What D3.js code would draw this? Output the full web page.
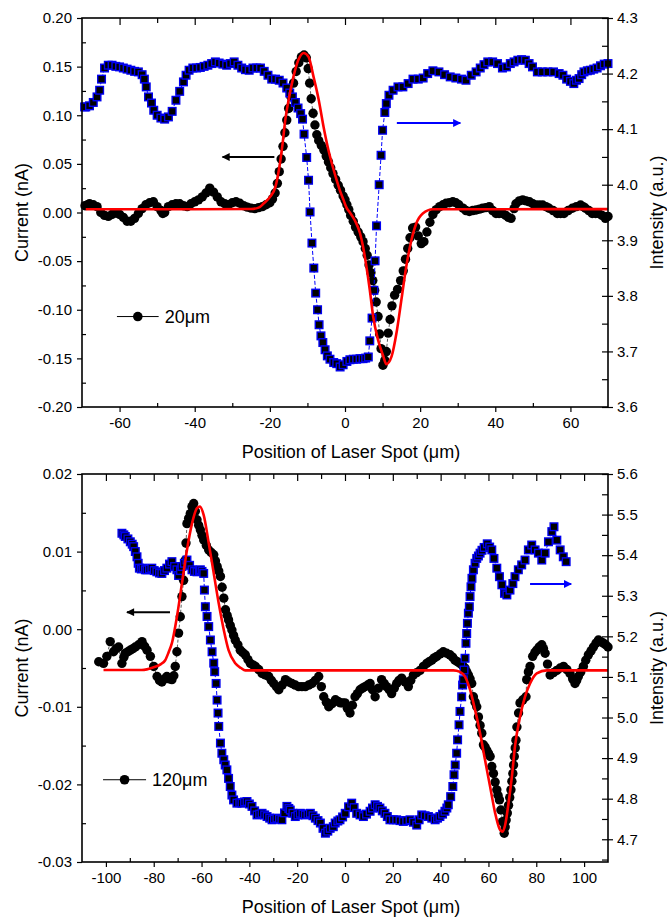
<!DOCTYPE html>
<html>
<head>
<meta charset="utf-8">
<script src="https://cdn.jsdelivr.net/npm/d3@7"></script>
<style>
  body { margin: 0; background: #fff; }
  svg text { font-family: "Liberation Sans", Arial, Helvetica, sans-serif; fill: #000; }
</style>
</head>
<body>
<div id="chart"></div>
<script>
// Photocurrent / reflected intensity line scans, two spot sizes

// ---- top panel (20um) : [position um, value]
const topCurrent = [[-69.2,0.007],[-68.5,0.008],[-68,0.009],[-67,0.008],[-66,0.006],[-65,0.0],[-64,-0.003],[-63,-0.004],[-62,-0.002],[-61,-0.0005],[-60,-0.002],[-59,-0.005],[-58,-0.009],[-57,-0.009],[-56,-0.006],[-55,-0.001],[-54,0.004],[-53,0.008],[-52,0.01],[-51,0.011],[-50,0.006],[-49,0.002],[-48.5,-0.001],[-48,0.0],[-47,0.006],[-46,0.008],[-45,0.009],[-44,0.009],[-43,0.007],[-42,0.006],[-41,0.009],[-40,0.011],[-39,0.013],[-38,0.016],[-37,0.02],[-36,0.025],[-35,0.021],[-34,0.016],[-33,0.011],[-32,0.009],[-31,0.008],[-30,0.01],[-29,0.011],[-28,0.0095],[-27,0.007],[-26,0.0055],[-25,0.0045],[-24,0.004],[-23,0.005],[-22,0.006],[-21,0.008],[-20,0.01],[-19.3,0.014],[-18.6,0.02],[-18,0.03],[-17.5,0.042],[-17,0.055],[-16.5,0.068],[-16,0.082],[-15.5,0.095],[-15,0.107],[-14.4,0.119],[-13.7,0.133],[-13,0.145],[-12.3,0.154],[-11.6,0.16],[-10.9,0.162],[-10.3,0.159],[-9.8,0.148],[-9.4,0.133],[-9,0.117],[-8.5,0.102],[-8,0.09],[-7.5,0.08],[-7,0.074],[-6.3,0.069],[-5.6,0.064],[-5,0.058],[-4.4,0.052],[-3.8,0.046],[-3.2,0.04],[-2.5,0.034],[-1.8,0.028],[-1.2,0.023],[-0.5,0.017],[0,0.013],[0.5,0.008],[1,0.003],[1.5,-0.003],[2.2,-0.009],[2.8,-0.015],[3.5,-0.02],[4.2,-0.025],[4.8,-0.03],[5.4,-0.037],[5.9,-0.044],[6.4,-0.054],[6.9,-0.062],[7.4,-0.07],[7.9,-0.08],[8.3,-0.092],[8.8,-0.107],[9.2,-0.125],[9.6,-0.14],[10.1,-0.157],[10.6,-0.152],[11.0,-0.143],[11.5,-0.124],[12.0,-0.11],[12.5,-0.096],[13.2,-0.085],[14,-0.079],[14.8,-0.07],[15.5,-0.06],[16.1,-0.048],[16.7,-0.037],[17.3,-0.026],[18,-0.016],[18.8,-0.015],[19.5,-0.024],[20.3,-0.032],[21,-0.03],[21.8,-0.02],[22.6,-0.01],[23.4,-0.002],[24.3,0.003],[25.2,0.006],[26.1,0.008],[26.9,0.0095],[27.8,0.01],[28.7,0.011],[29.5,0.01],[30.3,0.008],[31.4,0.0045],[32.2,0.002],[33.1,0.001],[34,0.002],[34.9,0.0026],[35.8,0.0035],[36.6,0.0044],[37.5,0.005],[38.4,0.006],[39.3,0.002],[40.2,-0.001],[41,-0.001],[41.9,-0.001],[42.8,-0.003],[43.5,-0.005],[44.2,-0.006],[45,0.004],[45.5,0.009],[46.4,0.012],[47.3,0.013],[48.2,0.012],[49.1,0.011],[50,0.009],[50.8,0.0077],[51.7,0.0077],[52.6,0.0077],[53.5,0.006],[54.3,0.0044],[55.4,0.002],[56.5,-0.001],[57.4,-0.001],[58.3,-0.001],[59.4,0.002],[60.5,0.0044],[61.6,0.006],[62.7,0.0077],[63.4,0.006],[64,0.0044],[64.9,0.002],[65.8,-0.001],[66.7,-0.001],[67.5,-0.001],[68.4,-0.003],[69.3,-0.006],[70,-0.004]];

const topIntensity = [[-69.3,4.14],[-69,4.14],[-68,4.142],[-67,4.148],[-66,4.158],[-65.3,4.17],[-64.8,4.19],[-64,4.21],[-63,4.215],[-62,4.215],[-61,4.213],[-60,4.212],[-59,4.21],[-58,4.208],[-57,4.206],[-56,4.204],[-55,4.203],[-54,4.198],[-53.4,4.19],[-52.9,4.176],[-52.3,4.158],[-51.5,4.147],[-50.9,4.134],[-50,4.125],[-49,4.12],[-48,4.118],[-47,4.122],[-46,4.132],[-45,4.152],[-44,4.168],[-43,4.185],[-42.3,4.197],[-41.5,4.206],[-40.5,4.21],[-39.5,4.21],[-38.5,4.211],[-37.5,4.213],[-36.5,4.215],[-35.5,4.218],[-34.5,4.221],[-33.5,4.219],[-32.5,4.217],[-31.5,4.215],[-30.5,4.218],[-29.5,4.221],[-28.5,4.215],[-27.5,4.21],[-26.5,4.207],[-25.5,4.206],[-24.5,4.21],[-23.5,4.21],[-22.5,4.21],[-21.5,4.204],[-20.5,4.197],[-19.5,4.19],[-18.5,4.19],[-17.5,4.188],[-16.5,4.183],[-15.5,4.174],[-14.7,4.165],[-14,4.158],[-13.2,4.148],[-12.5,4.138],[-11.8,4.128],[-11.3,4.118],[-10.9,4.091],[-10.2,4.049],[-9.7,4.008],[-9.3,3.951],[-8.8,3.895],[-8.3,3.85],[-7.8,3.805],[-7.3,3.775],[-6.9,3.748],[-6.4,3.728],[-5.9,3.716],[-5.3,3.703],[-4.7,3.692],[-4,3.686],[-3,3.68],[-2.2,3.678],[-1.3,3.672],[-0.5,3.676],[0.5,3.682],[1.3,3.685],[2.2,3.686],[3.1,3.686],[4,3.687],[4.8,3.687],[5.5,3.688],[6.2,3.69],[6.6,3.719],[7.2,3.76],[7.7,3.81],[8,3.863],[8.4,3.926],[9.1,4.0],[9.6,4.053],[10,4.098],[10.6,4.13],[11,4.146],[11.7,4.161],[12.8,4.17],[14.1,4.176],[15.4,4.176],[16.8,4.182],[18.1,4.19],[19.5,4.19],[20.8,4.192],[22,4.2],[23.4,4.205],[25,4.203],[26.5,4.198],[28,4.194],[29.5,4.192],[31,4.19],[32.2,4.188],[33.6,4.197],[34.9,4.203],[36,4.21],[37,4.216],[38,4.221],[39.3,4.221],[40.6,4.218],[41.9,4.21],[43,4.212],[44,4.218],[45,4.221],[46,4.224],[47,4.225],[48,4.224],[49,4.218],[49.9,4.212],[51.2,4.203],[52.5,4.203],[54,4.203],[55.5,4.203],[57,4.2],[58,4.197],[59,4.19],[60,4.186],[60.9,4.182],[61.6,4.188],[62.3,4.191],[63,4.198],[63.6,4.203],[64.5,4.205],[65.3,4.206],[66.2,4.208],[67.1,4.21],[68,4.214],[69,4.217],[70,4.218]];

const topFit = [[-69,0.0033],[-40,0.0033],[-25,0.0036],[-23,0.005],[-21.6,0.0095],[-19.9,0.0163],[-18.5,0.0266],[-17.6,0.0437],[-16.7,0.068],[-15.9,0.095],[-15,0.116],[-13.7,0.14],[-12.4,0.157],[-11,0.164],[-9.7,0.16],[-8.4,0.14],[-7,0.116],[-5.7,0.088],[-4.4,0.064],[-3.1,0.045],[-2.2,0.033],[-1.3,0.022],[-0.4,0.013],[0.4,0.005],[1.3,0.0],[2.6,-0.008],[4.0,-0.0213],[4.8,-0.035],[5.7,-0.0557],[6.6,-0.0797],[7.5,-0.107],[8.8,-0.131],[10.2,-0.148],[11.0,-0.156],[12.4,-0.148],[13.7,-0.124],[15,-0.09],[16.3,-0.0557],[17.7,-0.028],[19,-0.011],[20.7,-0.001],[23.4,0.0033],[70,0.0035]];

// ---- bottom panel (120um)
const botCurrent = [[-103,-0.0042],[-101,-0.0044],[-99.6,-0.0035],[-98.2,-0.0016],[-96.8,-0.0029],[-95.7,-0.0025],[-94.7,-0.0023],[-93.3,-0.0044],[-92.5,-0.0036],[-91.9,-0.0031],[-90.8,-0.0029],[-89.8,-0.0027],[-88.7,-0.0025],[-87.7,-0.0023],[-86.3,-0.002],[-84.9,-0.0016],[-83.8,-0.0022],[-82.8,-0.0027],[-81.4,-0.0035],[-80,-0.0048],[-78.6,-0.0061],[-77.6,-0.0066],[-76.6,-0.0068],[-75.5,-0.0064],[-74.5,-0.0061],[-73.5,-0.0064],[-72.4,-0.0065],[-71.6,-0.006],[-71,-0.0048],[-70.3,-0.0029],[-69.6,-0.0005],[-68.9,0.0016],[-68.2,0.0042],[-67.5,0.0063],[-66.8,0.0089],[-66.5,0.0111],[-66.1,0.0136],[-65.4,0.0143],[-64.7,0.0149],[-64,0.0158],[-63.3,0.0162],[-62.6,0.0152],[-61.9,0.0141],[-61.2,0.0134],[-60.5,0.0128],[-59.8,0.0121],[-59.1,0.0115],[-58,0.0108],[-57,0.0102],[-56,0.0099],[-54.9,0.0096],[-54.2,0.0088],[-53.5,0.0081],[-52.8,0.0075],[-52.1,0.0068],[-51.4,0.0054],[-50.7,0.004],[-50,0.0025],[-49.3,0.0018],[-48.7,0.0012],[-48,0.0005],[-47.3,-0.0001],[-46.6,-0.0008],[-45.9,-0.0014],[-44.8,-0.002],[-43.8,-0.0027],[-42.8,-0.003],[-41.7,-0.0033],[-40.6,-0.0039],[-39.6,-0.0044],[-38.5,-0.0046],[-37.5,-0.0048],[-36.1,-0.0052],[-34.7,-0.0057],[-33.3,-0.0059],[-31.9,-0.0061],[-30.8,-0.0066],[-29.8,-0.007],[-28.7,-0.0074],[-27.7,-0.0078],[-26.3,-0.0072],[-24.9,-0.0065],[-23.5,-0.0068],[-22.2,-0.007],[-20.8,-0.0072],[-19.4,-0.0074],[-18,-0.0074],[-16.6,-0.0074],[-15.2,-0.0072],[-13.8,-0.007],[-12.4,-0.0066],[-11,-0.0061],[-9.9,-0.0074],[-8.9,-0.0087],[-7.8,-0.0094],[-6.8,-0.01],[-5.4,-0.0096],[-4,-0.0091],[-2.9,-0.0093],[-1.9,-0.0095],[-1,-0.0095],[0,-0.0095],[1,-0.0102],[2.1,-0.0108],[3.1,-0.0098],[4.2,-0.0087],[5.2,-0.0083],[6.3,-0.0078],[7.3,-0.0076],[8.4,-0.0074],[9.5,-0.0072],[10.5,-0.007],[11.5,-0.0078],[12.6,-0.0087],[14,-0.0076],[15.3,-0.0065],[16.4,-0.007],[17.4,-0.0074],[18.5,-0.0078],[19.5,-0.0083],[20.6,-0.0076],[21.6,-0.007],[22.6,-0.0066],[23.7,-0.0063],[25.1,-0.0068],[26.5,-0.0074],[27.5,-0.0066],[28.6,-0.0059],[30,-0.0056],[31.4,-0.0053],[32.8,-0.0048],[34.2,-0.0044],[35.2,-0.0042],[36.3,-0.004],[37.3,-0.0037],[38.4,-0.0035],[39.8,-0.0032],[41.1,-0.0029],[42.5,-0.0031],[43.9,-0.0033],[45,-0.0036],[46,-0.004],[47,-0.0042],[48.1,-0.0044],[49.2,-0.0047],[50.2,-0.005],[50.9,-0.0055],[51.6,-0.0059],[52.3,-0.0064],[53,-0.007],[53.7,-0.0087],[54.4,-0.0094],[55.1,-0.01],[55.8,-0.0113],[56.5,-0.0124],[57.2,-0.0134],[57.9,-0.0149],[58.6,-0.0152],[59.3,-0.0156],[60,-0.016],[60.7,-0.0164],[61.4,-0.0177],[62.1,-0.0186],[62.8,-0.0197],[63.5,-0.0207],[64,-0.0214],[64.6,-0.022],[65.2,-0.0233],[65.9,-0.0248],[66.6,-0.0263],[67,-0.0255],[67.4,-0.0246],[67.9,-0.0237],[68.4,-0.0227],[68.9,-0.0217],[69.4,-0.0207],[69.8,-0.0196],[70.2,-0.0186],[70.5,-0.0175],[70.8,-0.0164],[71.2,-0.0153],[71.5,-0.0143],[71.9,-0.0126],[72.6,-0.0108],[73.2,-0.0095],[74.4,-0.0091],[75.7,-0.0087],[76,-0.0065],[76.7,-0.0055],[77.4,-0.0048],[78.5,-0.0035],[79.4,-0.003],[80.2,-0.0027],[81.2,-0.0023],[82.3,-0.002],[83,-0.0025],[83.7,-0.0031],[84.7,-0.0045],[85.8,-0.0059],[87.2,-0.0056],[88.6,-0.0053],[90,-0.005],[91.4,-0.0048],[92.8,-0.0052],[94.1,-0.0057],[95.2,-0.0064],[96.2,-0.007],[96.9,-0.0066],[97.6,-0.0061],[98.6,-0.0055],[99.7,-0.0048],[100.7,-0.004],[101.8,-0.0033],[102.9,-0.0028],[103.9,-0.0023],[105,-0.0018],[106,-0.0014],[107,-0.0016],[108.1,-0.0018],[109,-0.002],[110,-0.0023]];

const botIntensity = [[-93.3,5.454],[-92.5,5.45],[-91.9,5.446],[-90.8,5.44],[-89.8,5.433],[-89,5.427],[-88.4,5.421],[-87.7,5.409],[-87,5.396],[-86.5,5.38],[-86,5.368],[-85.2,5.366],[-84.5,5.368],[-83.5,5.364],[-82.8,5.364],[-81.8,5.366],[-80.8,5.368],[-79.8,5.362],[-78.7,5.359],[-77.6,5.356],[-76.6,5.355],[-75.5,5.362],[-74.5,5.368],[-73.4,5.378],[-72.4,5.384],[-71.3,5.372],[-70.3,5.364],[-69.6,5.35],[-68.8,5.362],[-68.2,5.372],[-67.2,5.38],[-66.1,5.388],[-65,5.375],[-64,5.364],[-63,5.36],[-61.9,5.359],[-61,5.362],[-60.5,5.364],[-59.8,5.36],[-59.1,5.355],[-58.8,5.314],[-58.4,5.273],[-57.7,5.249],[-57,5.224],[-56.3,5.191],[-55.6,5.162],[-54.9,5.134],[-54.5,5.113],[-53.9,5.084],[-53.5,5.043],[-53.1,5.011],[-52.8,4.978],[-52.1,4.937],[-51.5,4.912],[-50.7,4.896],[-50.1,4.883],[-49.4,4.871],[-48.7,4.85],[-48,4.83],[-47.3,4.809],[-46.6,4.797],[-45.2,4.789],[-44,4.79],[-43.1,4.789],[-42,4.792],[-41,4.793],[-40,4.787],[-38.9,4.781],[-37.8,4.77],[-36.8,4.76],[-35.7,4.762],[-34.7,4.764],[-33.6,4.76],[-32.6,4.756],[-31.5,4.752],[-30.5,4.748],[-29.5,4.75],[-28.5,4.752],[-27.4,4.75],[-26.4,4.748],[-25.3,4.765],[-24.3,4.781],[-23.5,4.776],[-22.9,4.772],[-21.8,4.764],[-20.8,4.756],[-19.7,4.76],[-18.7,4.764],[-17.6,4.762],[-16.6,4.76],[-15.5,4.762],[-14.5,4.764],[-13.4,4.758],[-12.4,4.752],[-11.3,4.746],[-10.3,4.74],[-9.2,4.727],[-8.2,4.715],[-7.2,4.72],[-6.2,4.727],[-4.9,4.731],[-4.1,4.74],[-3,4.745],[-2.1,4.748],[-1,4.755],[0.1,4.764],[1.5,4.78],[2.8,4.789],[3.8,4.778],[4.9,4.764],[6.3,4.76],[7.7,4.756],[9,4.762],[10.5,4.769],[11.5,4.777],[12.6,4.785],[13.6,4.781],[14.6,4.777],[15.6,4.77],[16.7,4.764],[17.7,4.756],[18.8,4.748],[20.2,4.748],[21.6,4.748],[23,4.746],[24.4,4.744],[25.8,4.746],[27.2,4.748],[28.6,4.742],[30,4.735],[31,4.748],[32.1,4.76],[33.5,4.758],[34.9,4.756],[36.3,4.752],[37.7,4.748],[38.7,4.752],[39.7,4.756],[40.8,4.762],[41.8,4.769],[42.6,4.777],[43.2,4.785],[44.2,4.805],[45.1,4.83],[45.6,4.859],[46.1,4.883],[46.7,4.912],[47.1,4.945],[47.7,4.982],[48.1,5.015],[48.8,5.051],[49.2,5.08],[49.5,5.093],[49.8,5.117],[50.2,5.146],[50.6,5.183],[50.9,5.207],[51.2,5.232],[51.6,5.257],[52,5.273],[52.3,5.298],[52.7,5.322],[53.1,5.343],[53.7,5.364],[54.4,5.38],[55.1,5.392],[55.8,5.398],[56.5,5.405],[57.3,5.412],[58.2,5.419],[59.5,5.428],[60.5,5.42],[61.4,5.413],[62.3,5.392],[63.5,5.368],[64.6,5.347],[65.6,5.327],[66.7,5.306],[67.7,5.302],[69,5.314],[70.2,5.33],[71.1,5.347],[72.5,5.364],[73.9,5.376],[75.3,5.388],[76.7,5.413],[78.1,5.425],[79.5,5.413],[80.9,5.405],[82.3,5.388],[83.7,5.405],[85.1,5.433],[86.5,5.458],[87.4,5.47],[88.6,5.437],[90,5.413],[91.3,5.396],[92.5,5.384]];

const botFit = [[-101,-0.00526],[-85,-0.00526],[-80,-0.0049],[-77,-0.0045],[-75.2,-0.004],[-73.8,-0.003],[-72.4,-0.0018],[-70.3,0.0016],[-68.2,0.0059],[-66.1,0.0102],[-64,0.0136],[-61.9,0.0156],[-60.7,0.0158],[-59.1,0.0147],[-57,0.0111],[-54.9,0.0072],[-52.8,0.0033],[-50.7,-0.0001],[-48.7,-0.0027],[-45.9,-0.0044],[-43.5,-0.005],[-41.7,-0.0053],[45.3,-0.0053],[48.1,-0.0055],[50.2,-0.0061],[52.3,-0.0078],[54.4,-0.0104],[56.5,-0.0134],[58.6,-0.0169],[60.7,-0.0203],[62.8,-0.0237],[64.6,-0.0257],[65.9,-0.0261],[67,-0.0252],[68.4,-0.0224],[69.8,-0.019],[71.1,-0.0151],[73.2,-0.0113],[75.3,-0.0087],[77.4,-0.007],[80.2,-0.0057],[84.4,-0.0053],[110,-0.0053]];

// tick labels
const topXTicks = [-60, -40, -20, 0, 20, 40, 60];
const topLeftTicks = [-0.20, -0.15, -0.10, -0.05, 0.00, 0.05, 0.10, 0.15, 0.20];
const topRightTicks = [3.6, 3.7, 3.8, 3.9, 4.0, 4.1, 4.2, 4.3];
const botXTicks = [-100, -80, -60, -40, -20, 0, 20, 40, 60, 80, 100];
const botLeftTicks = [-0.03, -0.02, -0.01, 0.00, 0.01, 0.02];
const botRightTicks = [4.7, 4.8, 4.9, 5.0, 5.1, 5.2, 5.3, 5.4, 5.5, 5.6];

const W = 667, H = 917;
const X0 = 82, X1 = 608; // plot frame left / right
const svg = d3.select("#chart").append("svg").attr("width", W).attr("height", H);

// arrow heads
svg.append("defs").selectAll("marker")
  .data([["headK", "#000"], ["headB", "#0000ff"]])
  .join("marker")
  .attr("id", d => d[0])
  .attr("viewBox", "0 0 10 10").attr("refX", 9).attr("refY", 5)
  .attr("markerWidth", 5).attr("markerHeight", 4).attr("orient", "auto")
  .append("path").attr("d", "M0,0 L10,5 L0,10 z").attr("fill", d => d[1]);

function drawPanel(p) {
  const g = svg.append("g");
  const x = d3.scaleLinear().domain(p.xDomain).range([X0, X1]);
  const yL = d3.scaleLinear().domain(p.leftDomain).range([p.bottom, p.top]);
  const yR = d3.scaleLinear().domain(p.rightDomain).range([p.bottom, p.top]);

  const lineL = d3.line().x(d => x(d[0])).y(d => yL(d[1]));
  const lineR = d3.line().x(d => x(d[0])).y(d => yR(d[1]));

  // current: black circles on a thin dashed line
  g.append("path").datum(p.current).attr("d", lineL)
    .attr("fill", "none").attr("stroke", "#333").attr("stroke-width", 0.8).attr("stroke-dasharray", "3,2");
  g.append("g").selectAll("circle").data(p.current).join("circle")
    .attr("cx", d => x(d[0])).attr("cy", d => yL(d[1])).attr("r", 4.7).attr("fill", "#000");

  // intensity: black squares with blue rim
  g.append("path").datum(p.intensity).attr("d", lineR)
    .attr("fill", "none").attr("stroke", "#0000ff").attr("stroke-width", 1).attr("stroke-dasharray", "4,2");
  g.append("g").selectAll("rect").data(p.intensity).join("rect")
    .attr("x", d => x(d[0]) - 3.8).attr("y", d => yR(d[1]) - 3.8)
    .attr("width", 7.6).attr("height", 7.6)
    .attr("fill", "#000").attr("stroke", "#0000f0").attr("stroke-width", 1.4);

  // fit curve
  g.append("path").datum(p.fit).attr("d", lineL.curve(d3.curveMonotoneX))
    .attr("fill", "none").attr("stroke", "#ff0000").attr("stroke-width", 2.6);

  // axes: majors out, minors in
  const fmtL = d => d.toFixed(2);
  const fmtR = d => d.toFixed(1);
  const font = sel => sel.attr("font-size", 15).attr("font-family", null);

  g.append("g").attr("transform", `translate(0,${p.bottom})`)
    .call(d3.axisBottom(x).tickValues(p.xTicks).tickSize(5).tickSizeOuter(0).tickPadding(5).tickFormat(d => String(d)))
    .call(font);
  g.append("g").attr("transform", `translate(0,${p.bottom})`)
    .call(d3.axisBottom(x).tickValues(p.xMinor).tickSize(-4).tickSizeOuter(0).tickFormat(""));
  g.append("g").attr("transform", `translate(0,${p.top})`)
    .call(d3.axisTop(x).tickValues(p.xTicks).tickSize(-7).tickSizeOuter(0).tickFormat(""));
  g.append("g").attr("transform", `translate(0,${p.top})`)
    .call(d3.axisTop(x).tickValues(p.xMinor).tickSize(-5).tickSizeOuter(0).tickFormat(""));

  g.append("g").attr("transform", `translate(${X0},0)`)
    .call(d3.axisLeft(yL).tickValues(p.leftTicks).tickSize(5).tickSizeOuter(0).tickPadding(5).tickFormat(fmtL))
    .call(font);
  g.append("g").attr("transform", `translate(${X0},0)`)
    .call(d3.axisLeft(yL).tickValues(p.leftMinor).tickSize(-4).tickSizeOuter(0).tickFormat(""));

  g.append("g").attr("transform", `translate(${X1},0)`)
    .call(d3.axisRight(yR).tickValues(p.rightTicks).tickSize(5).tickSizeOuter(0).tickPadding(4).tickFormat(fmtR))
    .call(font);
  g.append("g").attr("transform", `translate(${X1},0)`)
    .call(d3.axisRight(yR).tickValues(p.rightMinor.concat(p.rightTicks)).tickSize(-6).tickSizeOuter(0).tickFormat(""));

  g.selectAll(".domain").remove();
  g.selectAll(".tick line").attr("stroke", "#000").attr("stroke-width", 1.2);

  // frame
  g.append("rect").attr("x", X0).attr("y", p.top).attr("width", X1 - X0).attr("height", p.bottom - p.top)
    .attr("fill", "none").attr("stroke", "#000").attr("stroke-width", 1.6);

  // titles
  const midY = (p.top + p.bottom) / 2;
  g.append("text").attr("transform", `translate(22,${midY}) rotate(-90)`)
    .attr("text-anchor", "middle").attr("dominant-baseline", "central").attr("font-size", 18).text("Current (nA)");
  g.append("text").attr("transform", `translate(657,${midY}) rotate(-90)`)
    .attr("text-anchor", "middle").attr("dominant-baseline", "central").attr("font-size", 18).text("Intensity (a.u.)");
  g.append("text").attr("x", (X0 + X1) / 2 + 6).attr("y", p.bottom + 45)
    .attr("text-anchor", "middle").attr("dominant-baseline", "central").attr("font-size", 18)
    .text("Position of Laser Spot (\u03bcm)");

  // legend
  const lg = p.legend;
  g.append("line").attr("x1", x(lg.x[0])).attr("x2", x(lg.x[1])).attr("y1", yL(lg.y)).attr("y2", yL(lg.y))
    .attr("stroke", "#000").attr("stroke-width", 1);
  g.append("circle").attr("cx", x((lg.x[0] + lg.x[1]) / 2)).attr("cy", yL(lg.y)).attr("r", 4.8).attr("fill", "#000");
  g.append("text").attr("x", x(lg.x[1]) + 6).attr("y", yL(lg.y)).attr("dominant-baseline", "central")
    .attr("font-size", 18).text(lg.label);

  // arrows pointing to each series' axis
  g.append("line").attr("x1", x(p.arrowL.x[0])).attr("x2", x(p.arrowL.x[1]))
    .attr("y1", yL(p.arrowL.y)).attr("y2", yL(p.arrowL.y))
    .attr("stroke", "#000").attr("stroke-width", 2).attr("marker-end", "url(#headK)");
  g.append("line").attr("x1", x(p.arrowR.x[0])).attr("x2", x(p.arrowR.x[1]))
    .attr("y1", yR(p.arrowR.y)).attr("y2", yR(p.arrowR.y))
    .attr("stroke", "#0000ff").attr("stroke-width", 2).attr("marker-end", "url(#headB)");
}

drawPanel({
  top: 18, bottom: 407,
  xDomain: [-70, 70], leftDomain: [-0.2, 0.2], rightDomain: [3.6, 4.3],
  xTicks: topXTicks, xMinor: [-50, -30, -10, 10, 30, 50],
  leftTicks: topLeftTicks, leftMinor: [-0.175, -0.125, -0.075, -0.025, 0.025, 0.075, 0.125, 0.175],
  rightTicks: topRightTicks, rightMinor: [3.65, 3.75, 3.85, 3.95, 4.05, 4.15, 4.25],
  current: topCurrent, intensity: topIntensity, fit: topFit,
  legend: { x: [-60.7, -49.6], y: -0.107, label: "20\u03bcm" },
  arrowL: { x: [-18.8, -32.6], y: 0.057 },
  arrowR: { x: [13.8, 30.7], y: 4.111 }
});

drawPanel({
  top: 474, bottom: 862,
  xDomain: [-110, 110], leftDomain: [-0.03, 0.02], rightDomain: [4.644, 5.6],
  xTicks: botXTicks, xMinor: [-90, -70, -50, -30, -10, 10, 30, 50, 70, 90],
  leftTicks: botLeftTicks, leftMinor: [-0.025, -0.015, -0.005, 0.005, 0.015],
  rightTicks: botRightTicks, rightMinor: [4.65, 4.75, 4.85, 4.95, 5.05, 5.15, 5.25, 5.35, 5.45, 5.55],
  current: botCurrent, intensity: botIntensity, fit: botFit,
  legend: { x: [-101.2, -83.2], y: -0.0194, label: "120\u03bcm" },
  arrowL: { x: [-73.2, -91.2], y: 0.0022 },
  arrowR: { x: [77.4, 94.6], y: 5.329 }
});
</script>
</body>
</html>
